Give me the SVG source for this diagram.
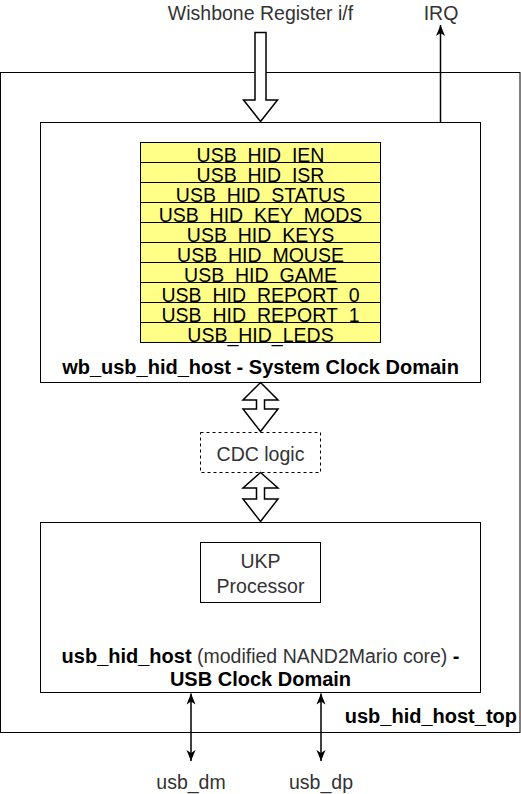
<svg xmlns="http://www.w3.org/2000/svg" width="521" height="794" viewBox="0 0 521 794">
<defs>
<style>
.box{fill:#ffffff;stroke:#000000;stroke-width:1}
.reg{fill:#ffff88;stroke:#000000;stroke-width:1}
.dash{fill:#ffffff;stroke:#000000;stroke-width:1;stroke-dasharray:3 3}
.blk{fill:#ffffff;stroke:#000000;stroke-width:1.5;stroke-linejoin:miter}
.line{fill:none;stroke:#000000;stroke-width:1.5}
.t{font-family:"Liberation Sans",Arial,Helvetica,sans-serif;font-size:19.5px;fill:#333333}
.r{font-family:"Liberation Sans",Arial,Helvetica,sans-serif;font-size:19.5px;fill:#000000;text-anchor:middle}
.b{font-family:"Liberation Sans",Arial,Helvetica,sans-serif;font-size:20px;font-weight:bold;fill:#000000}
.m{text-anchor:middle}
</style>
<marker id="ah" viewBox="0 0 11 10" refX="11" refY="5" markerWidth="11" markerHeight="10" markerUnits="userSpaceOnUse" orient="auto-start-reverse">
<path d="M0,0.5 L11,5 L0,9.5 L3,5 z" fill="#000000"/>
</marker>
</defs>
<rect width="521" height="794" fill="#ffffff"/>

<g id="usb_hid_host_top">
<rect class="box" x="0.5" y="72.5" width="519.5" height="660"/>
<text class="b" x="517" y="723" text-anchor="end">usb_hid_host_top</text>
</g>

<g id="wb_usb_hid_host">
<rect class="box" x="40.5" y="122.5" width="440" height="260"/>
<text class="b m" x="260.5" y="374">wb_usb_hid_host - System Clock Domain</text>
</g>

<g id="registers">
<rect class="reg" x="140.5" y="142.5" width="240" height="20"/><text class="r" x="260.5" y="161.5">USB_HID_IEN</text>
<rect class="reg" x="140.5" y="162.5" width="240" height="20"/><text class="r" x="260.5" y="181.5">USB_HID_ISR</text>
<rect class="reg" x="140.5" y="182.5" width="240" height="20"/><text class="r" x="260.5" y="201.5">USB_HID_STATUS</text>
<rect class="reg" x="140.5" y="202.5" width="240" height="20"/><text class="r" x="260.5" y="221.5">USB_HID_KEY_MODS</text>
<rect class="reg" x="140.5" y="222.5" width="240" height="20"/><text class="r" x="260.5" y="241.5">USB_HID_KEYS</text>
<rect class="reg" x="140.5" y="242.5" width="240" height="20"/><text class="r" x="260.5" y="261.5">USB_HID_MOUSE</text>
<rect class="reg" x="140.5" y="262.5" width="240" height="20"/><text class="r" x="260.5" y="281.5">USB_HID_GAME</text>
<rect class="reg" x="140.5" y="282.5" width="240" height="20"/><text class="r" x="260.5" y="301.5">USB_HID_REPORT_0</text>
<rect class="reg" x="140.5" y="302.5" width="240" height="20"/><text class="r" x="260.5" y="321.5">USB_HID_REPORT_1</text>
<rect class="reg" x="140.5" y="322.5" width="240" height="20"/><text class="r" x="260.5" y="341.5">USB_HID_LEDS</text>
</g>

<g id="cdc_logic">
<rect class="dash" x="200.5" y="432.5" width="120" height="40"/>
<text class="t m" x="260.5" y="460.5">CDC logic</text>
</g>

<g id="usb_hid_host">
<rect class="box" x="40.5" y="522.5" width="440" height="170"/>
<text class="t m" x="260.5" y="663"><tspan font-weight="bold" fill="#000000" font-size="20px">usb_hid_host</tspan> (modified NAND2Mario core) <tspan font-weight="bold" fill="#000000" font-size="20px">-</tspan></text>
<text class="b m" x="260.5" y="686">USB Clock Domain</text>
</g>

<g id="ukp_processor">
<rect class="box" x="200.5" y="542.5" width="120" height="60"/>
<text class="t m" x="260.5" y="568">UKP</text>
<text class="t m" x="260.5" y="593">Processor</text>
</g>

<g id="labels">
<text class="t m" x="260.5" y="20">Wishbone Register i/f</text>
<text class="t m" x="441" y="20">IRQ</text>
<text class="t m" x="191" y="789">usb_dm</text>
<text class="t m" x="321" y="789">usb_dp</text>
</g>

<g id="connectors">
<polygon class="blk" points="255,32.5 266,32.5 266,100 277.5,100 260.5,121.5 243.5,100 255,100"/>
<polygon class="blk" points="260.5,382.5 278,400 264.5,400 264.5,409 278,409 260.5,431.5 243,409 256.5,409 256.5,400 243,400"/>
<polygon class="blk" points="260.5,472.5 278,488 264.5,488 264.5,499 278,499 260.5,521.5 243,499 256.5,499 256.5,488 243,488"/>
<line class="line" x1="440.5" y1="122.5" x2="440.5" y2="25" marker-end="url(#ah)"/>
<line class="line" x1="191" y1="693.5" x2="191" y2="761" marker-start="url(#ah)" marker-end="url(#ah)"/>
<line class="line" x1="321" y1="693.5" x2="321" y2="761" marker-start="url(#ah)" marker-end="url(#ah)"/>
</g>
</svg>
